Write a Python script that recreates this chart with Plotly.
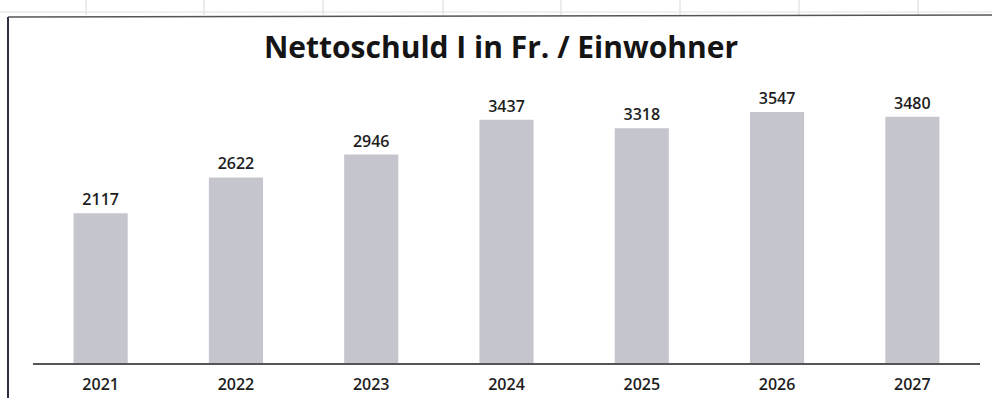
import plotly.graph_objects as go

years = ["2021", "2022", "2023", "2024", "2025", "2026", "2027"]
values = [2117, 2622, 2946, 3437, 3318, 3547, 3480]
title_text = "Nettoschuld I in Fr. / Einwohner"

W, H = 992, 398
L, R, T, B = 33, 12, 80, 35
pw, ph = W - L - R, H - T - B

def px_x(x):
    return (x - L) / pw

def px_y(y):
    return (H - B - y) / ph

FONT = "Open Sans"

fig = go.Figure(go.Bar(
    x=years, y=values,
    marker=dict(color="#c5c5cd", line=dict(width=0)),
    width=0.4,
    text=[str(v) for v in values],
    textposition="outside",
    textfont=dict(family=FONT, size=16, color="#1e1e1e", weight=600),
    cliponaxis=False,
))

# faint spreadsheet gridlines above the chart frame (background decoration)
shapes = []
for gx in [86, 204, 323, 443, 561, 680, 799, 918]:
    shapes.append(dict(type="line", xref="paper", yref="paper",
                       x0=px_x(gx), x1=px_x(gx), y0=px_y(0), y1=px_y(15),
                       line=dict(color="#d8d8d8", width=1)))
shapes.append(dict(type="line", xref="paper", yref="paper",
                   x0=px_x(0), x1=px_x(W), y0=px_y(12), y1=px_y(12),
                   line=dict(color="#e0e0e0", width=1)))
# chart frame
shapes.append(dict(type="line", xref="paper", yref="paper",
                   x0=px_x(8), x1=px_x(8), y0=px_y(17), y1=px_y(H),
                   line=dict(color="#2e2e3e", width=2)))
shapes.append(dict(type="line", xref="paper", yref="paper",
                   x0=px_x(8), x1=px_x(W), y0=px_y(17), y1=px_y(15),
                   line=dict(color="#555555", width=1.5)))

fig.update_layout(
    width=W, height=H,
    margin=dict(l=L, r=R, t=T, b=B, autoexpand=False),
    paper_bgcolor="white", plot_bgcolor="white",
    showlegend=False,
    title=dict(text="<b>" + title_text + "</b>", x=0.505, xanchor="center",
               y=1 - 47 / H, yanchor="middle",
               font=dict(family=FONT, size=30, color="#151515")),
    xaxis=dict(showline=True, linecolor="#555555", linewidth=1.5,
               ticks="outside", ticklen=6, tickcolor="rgba(0,0,0,0)",
               tickfont=dict(family=FONT, size=16, color="#1e1e1e", weight=600),
               showgrid=False, zeroline=False, automargin=False),
    yaxis=dict(range=[0, 4000], visible=False, showgrid=False, zeroline=False,
               automargin=False),
    shapes=shapes,
)

fig.write_html("out.html")
